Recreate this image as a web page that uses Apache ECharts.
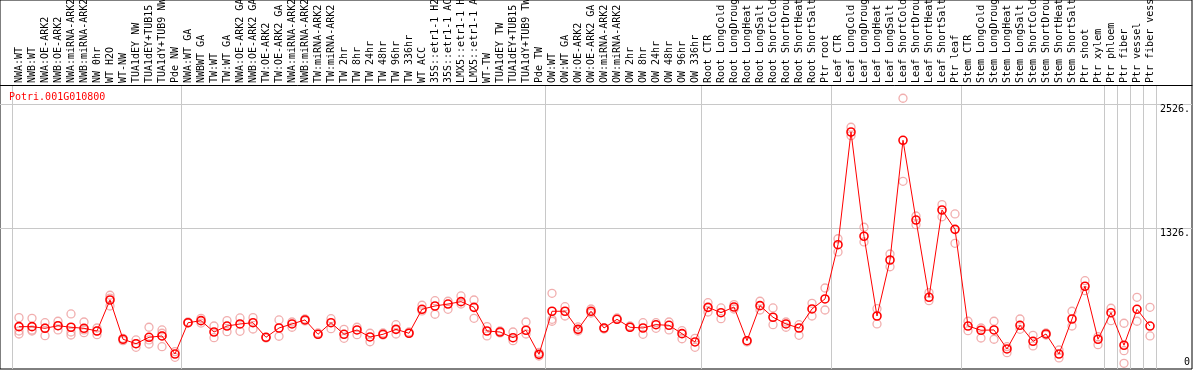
<!DOCTYPE html>
<html>
<head>
<meta charset="utf-8">
<script src="https://cdn.jsdelivr.net/npm/echarts@6.0.0/dist/echarts.min.js"></script>
<style>
  html, body { margin: 0; padding: 0; background: #fff; }
  #chart { width: 1194px; height: 370px; }
</style>
</head>
<body>
<div id="chart"></div>
<script>
const geneId = "Potri.001G010800";

const samples = [
  "NWA:WT", "NWB:WT", "NWA:OE-ARK2", "NWB:OE-ARK2", "NWA:miRNA-ARK2", "NWB:miRNA-ARK2",
  "NW 0hr", "WT H2O", "WT-NW", "TUA1dEY NW", "TUA1dEY+TUB15 NW", "TUA1dY+TUB9 NW", "Pde NW",
  "NWA:WT GA", "NWBWT GA", "TW:WT", "TW:WT GA", "NWA:OE-ARK2 GA", "NWB:OE-ARK2 GA",
  "TW:OE-ARK2", "TW:OE-ARK2 GA", "NWA:miRNA-ARK2", "NWB:miRNA-ARK2", "TW:miRNA-ARK2", "TW:miRNA-ARK2",
  "TW 2hr", "TW 8hr", "TW 24hr", "TW 48hr", "TW 96hr", "TW 336hr", "WT ACC",
  "35S::etr1-1 H2O", "35S::etr1-1 ACC", "LMX5::etr1-1 H2O", "LMX5::etr1-1 ACC",
  "WT-TW", "TUA1dEY TW", "TUA1dEY+TUB15 TW", "TUA1dY+TUB9 TW", "Pde TW",
  "OW:WT", "OW:WT GA", "OW:OE-ARK2", "OW:OE-ARK2 GA", "OW:miRNA-ARK2", "OW:miRNA-ARK2",
  "OW 2hr", "OW 8hr", "OW 24hr", "OW 48hr", "OW 96hr", "OW 336hr",
  "Root CTR", "Root LongCold", "Root LongDrought", "Root LongHeat", "Root LongSalt",
  "Root ShortCold", "Root ShortDrought", "Root ShortHeat", "Root ShortSalt", "Ptr root",
  "Leaf CTR", "Leaf LongCold", "Leaf LongDrought", "Leaf LongHeat", "Leaf LongSalt",
  "Leaf ShortCold", "Leaf ShortDrought", "Leaf ShortHeat", "Leaf ShortSalt", "Ptr leaf",
  "Stem CTR", "Stem LongCold", "Stem LongDrought", "Stem LongHeat", "Stem LongSalt",
  "Stem ShortCold", "Stem ShortDrought", "Stem ShortHeat", "Stem ShortSalt",
  "Ptr shoot", "Ptr xylem", "Ptr phloem", "Ptr fiber", "Ptr vessel", "Ptr fiber vessel"
];

// mean expression per sample
const means = [
  374, 374, 358, 383, 368, 358, 332, 632, 252, 209, 271, 284, 109,
  412, 432, 322, 380, 400, 412, 271, 361, 400, 439, 300, 412, 300, 342, 274, 300, 348,
  310, 542, 574, 593, 616, 561, 332, 322, 267, 339, 106,
  523, 523, 348, 523, 361, 445, 368, 361, 393, 387, 306, 226,
  561, 509, 564, 238, 577, 465, 400, 361, 545, 642,
  1167, 2258, 1249, 477, 1019, 2178, 1406, 658, 1503, 1316,
  380, 339, 342, 158, 387, 232, 303, 109, 448, 765, 252, 509, 194, 542, 380
];

// replicate values per sample
const reps = [
  [461, 332, 303], [455, 342, 332], [412, 287, 361], [426, 342, 383], [497, 293, 322],
  [419, 316, 342], [361, 296, 332], [678, 574, 651], [238, 261], [245, 174, 209],
  [368, 206, 245], [342, 180, 310, 284], [132, 77],
  [419, 409], [455, 409], [380, 267], [432, 325], [458, 329], [461, 351], [271, 264],
  [439, 281], [368, 419], [448, 429], [300, 313], [451, 354], [348, 261], [368, 296],
  [310, 228], [313, 293], [393, 303], [310, 322], [581, 526], [625, 494], [620, 542],
  [671, 593], [632, 455], [374, 284], [332, 313], [322, 238], [419, 303], [124, 90],
  [697, 445, 426], [567, 477], [332, 371], [506, 545], [361, 351], [445, 458],
  [368, 380], [412, 300], [358, 412], [419, 342], [335, 257], [261, 174],
  [606, 516], [451, 555], [587, 545], [238, 226], [620, 535], [555, 393], [368, 419],
  [393, 290], [600, 477], [748, 535],
  [1225, 1097], [2304, 2223], [1336, 1194], [548, 400], [1077, 954], [2585, 1781],
  [1445, 1361], [703, 625], [1555, 1438], [1465, 1181],
  [426, 335], [361, 264], [426, 252], [122, 180], [448, 348], [290, 187], [313, 293],
  [148, 71], [523, 380], [819, 722], [277, 199], [552, 432], [407, 141, 19], [658, 426],
  [561, 284]
];

const yLabels = [0, 1326, 2526];
const yLines = [1326, 2526];
// index of the first sample of each block (separator drawn before it)
const groupStarts = [0, 13, 41, 53, 63, 73, 84, 85, 86, 87];

// vertical scale of the plot: value at bottom edge and units per pixel
const yMin = -36;
const perPx = 9.68;
const chartH = 370;
const bottomGap = 1;
const labelBand = 85;
const plotBottom = chartH - bottomGap;
const yMaxPlot = yMin + perPx * (plotBottom - labelBand);
const yMaxFull = yMin + perPx * plotBottom;

const mono = "DejaVu Sans Mono";
const gridGrey = "#c8c8c8";

const repPoints = [];
reps.forEach((list, i) => list.forEach((v) => repPoints.push([i, v])));

const isGroupStart = (idx) => groupStarts.indexOf(idx) >= 0;

const chart = echarts.init(document.getElementById("chart"));

chart.setOption({
  animation: false,
  backgroundColor: "#fff",
  title: {
    text: geneId,
    left: 9,
    top: 92,
    padding: 0,
    textStyle: { color: "#ff0000", fontFamily: mono, fontSize: 10, fontWeight: "normal" }
  },
  grid: [
    {
      // frame + horizontal grid lines, full width
      left: 0, right: 2, top: 0, bottom: bottomGap,
      show: true, borderColor: "#000", borderWidth: 1,
      outerBoundsMode: "none", containLabel: false
    },
    {
      // data area, one 13px band per sample
      left: 12.5, width: 13 * samples.length, top: labelBand, bottom: bottomGap,
      outerBoundsMode: "none", containLabel: false
    }
  ],
  xAxis: [
    {
      // line under the label band
      gridIndex: 0, type: "value", position: "top", offset: -labelBand,
      min: 0, max: 1,
      axisLine: { show: true, onZero: false, lineStyle: { color: "#000", width: 1 } },
      axisTick: { show: false }, axisLabel: { show: false }, splitLine: { show: false }
    },
    {
      gridIndex: 1, type: "category", position: "top", data: samples, boundaryGap: true,
      axisLine: { show: false },
      axisTick: {
        show: true, length: labelBand, interval: isGroupStart,
        lineStyle: { color: gridGrey, width: 1 }
      },
      axisLabel: {
        show: true, interval: 0, rotate: 90, margin: 2, color: "#000",
        fontFamily: mono, fontSize: 10, hideOverlap: false
      },
      splitLine: { show: true, interval: isGroupStart, lineStyle: { color: gridGrey, width: 1 } }
    }
  ],
  yAxis: [
    {
      gridIndex: 0, type: "value", position: "right", min: yMin, max: yMaxFull,
      axisLine: { show: false },
      axisTick: { show: false, customValues: yLines },
      axisLabel: {
        show: true, inside: true, margin: 2, color: "#000",
        fontFamily: mono, fontSize: 10,
        customValues: yLabels,
        formatter: (v) => (v === 0 ? "{z|0}" : "{t|" + v + ".}"),
        rich: {
          t: { fontFamily: mono, fontSize: 10, color: "#000", padding: [10, 0, 0, 0] },
          z: { fontFamily: mono, fontSize: 10, color: "#000", padding: [0, 0, 6, 0] }
        }
      },
      splitLine: { show: true, lineStyle: { color: gridGrey, width: 1 } }
    },
    {
      gridIndex: 1, type: "value", min: yMin, max: yMaxPlot, show: false,
      splitLine: { show: false }
    }
  ],
  series: [
    {
      name: "replicates",
      type: "scatter",
      xAxisIndex: 1, yAxisIndex: 1,
      data: repPoints,
      symbol: "circle",
      symbolSize: 8,
      itemStyle: { color: "rgba(0,0,0,0)", borderColor: "#ee9a9a", borderWidth: 1.3 },
      silent: true,
      z: 2
    },
    {
      name: "mean",
      type: "line",
      xAxisIndex: 1, yAxisIndex: 1,
      data: means,
      symbol: "circle",
      symbolSize: 8,
      showAllSymbol: true,
      lineStyle: { color: "#ff0000", width: 1 },
      itemStyle: { color: "rgba(0,0,0,0)", borderColor: "#ff0000", borderWidth: 1.6 },
      silent: true,
      z: 3
    }
  ]
});
</script>
</body>
</html>
